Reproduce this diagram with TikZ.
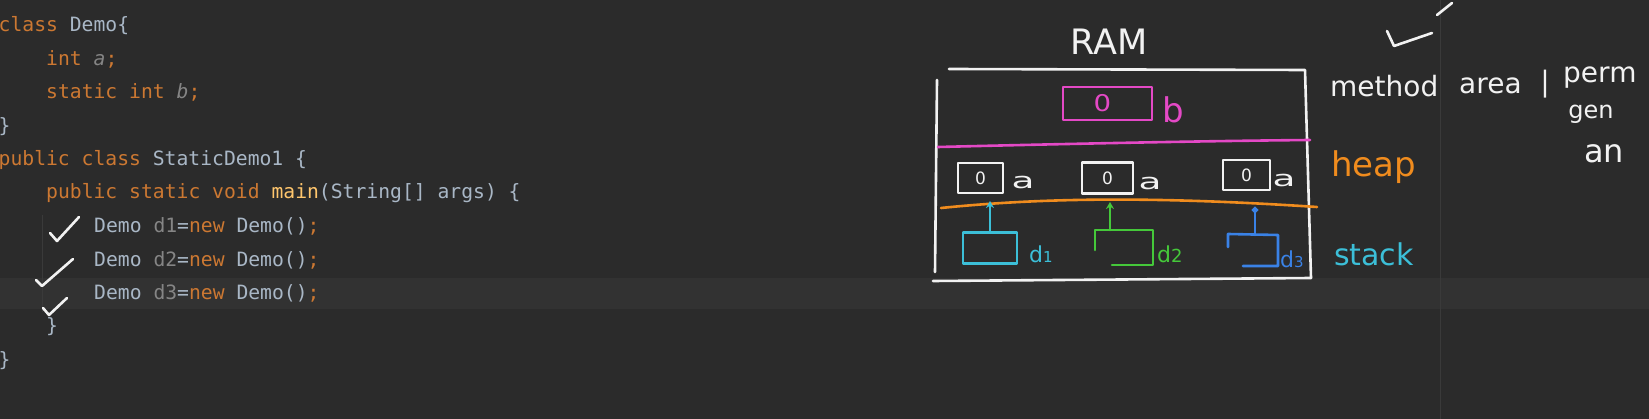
\documentclass[tikz,border=0pt]{standalone}
\usepackage{fontspec}
\usepackage{graphicx}
\usetikzlibrary{arrows.meta}
\newfontfamily\codefont{DejaVu Sans Mono}
\newfontfamily\hand{DejaVu Sans}
\definecolor{bg}{HTML}{2B2B2B}
\definecolor{band}{HTML}{323232}
\definecolor{guide}{HTML}{3A3A3A}
\definecolor{plain}{HTML}{A9B7C6}
\definecolor{kwc}{HTML}{CC7832}
\definecolor{fld}{HTML}{858585}
\definecolor{mainc}{HTML}{FFC66D}
\definecolor{pen}{HTML}{F2F2F2}
\definecolor{pinkc}{HTML}{E449C6}
\definecolor{orc}{HTML}{F08C1E}
\definecolor{cyc}{HTML}{3CBFD8}
\definecolor{grc}{HTML}{45C83A}
\definecolor{blc}{HTML}{3A82E6}
\newcommand\ckw[1]{\textcolor{kwc}{#1}}
\newcommand\cfd[1]{\textcolor{fld}{\itshape #1}}
\newcommand\cvr[1]{\textcolor{fld}{#1}}
\newcommand\cmn[1]{\textcolor{mainc}{#1}}
\begin{document}
\begin{tikzpicture}[x=1pt,y=-1pt,
  code/.style={anchor=base west, inner sep=0pt, text=plain, font={\codefont\fontsize{19.7pt}{24pt}\selectfont}},
  penline/.style={line width=2.6pt, line cap=round, line join=round},
  wp/.style={penline, draw=pen},
  hw/.style={inner sep=0pt, font={\hand\fontsize{#1pt}{#1pt}\selectfont}},
  hw/.default=28,
  hbox/.style={wp, inner sep=0pt, text=pen, font={\hand\fontsize{17pt}{17pt}\selectfont}}
]
\fill[bg] (0,0) rectangle (1649,419);
\useasboundingbox (0,0) rectangle (1649,419);
% current line band and guides
\fill[band] (0,278) rectangle (1649,309);
\draw[guide, line width=1pt] (42,215) -- (42,312);
\draw[guide, line width=1pt] (1440,0) -- (1440,419);

% code
\node[code] (l1) at (-1.5,31.7) {\ckw{class} Demo\{};
\node[code] (l2) at (46,65.2) {\ckw{int} \cfd{a}\ckw{;}};
\node[code] (l3) at (46,98.6) {\ckw{static int} \cfd{b}\ckw{;}};
\node[code] (l4) at (-1.5,132.1) {\}};
\node[code] (l5) at (-1.5,165.5) {\ckw{public class} StaticDemo1 \{};
\node[code] (l6) at (46,199) {\ckw{public static void} \cmn{main}(String[] args) \{};
\node[code] (l7) at (94,232.8) {Demo \cvr{d1}=\ckw{new} Demo()\ckw{;}};
\node[code] (l8) at (94,266.3) {Demo \cvr{d2}=\ckw{new} Demo()\ckw{;}};
\node[code] (l9) at (94,300) {Demo \cvr{d3}=\ckw{new} Demo()\ckw{;}};
\node[code] (l10) at (46,332.8) {\}};
\node[code] (l11) at (-1.5,366.2) {\}};

% check marks
\draw[wp] (50,233) -- (57,241) -- (79,217);
\draw[wp] (36,280) -- (42,286) -- (73,259);
\draw[wp] (43,308) -- (49,315) -- (67,298);
\draw[wp] (1387,31) -- (1394,46) -- (1432,33);
\draw[wp] (1437,15) -- (1452,3);

% RAM frame
\node[hw=35, text=pen, anchor=base west] (ram) at (1070,55) {RAM};
\draw[wp] (949,69) -- (1305,70) -- (1311,278);
\draw[wp] (937,80) -- (935,272);
\draw[wp] (933,281) -- (1311,278);

% method area
\draw[penline, draw=pinkc] (938,147) .. controls (1060,144) and (1200,141) .. (1310,140);
\node[penline, draw=pinkc, minimum width=89pt, minimum height=33pt, text=pinkc, inner sep=0pt,
      font={\hand\fontsize{23pt}{23pt}\selectfont}] (pb) at (1107.5,103.5) {\hspace*{-10pt}\scalebox{1.2}[1]{0}};
\node[hw=34, text=pinkc, anchor=base] (lb) at (1173,123) {b};

% heap
\draw[penline, draw=orc] (941,208) .. controls (1040,198) and (1150,196) .. (1317,207);
\node[hbox, minimum width=45pt, minimum height=30pt] (h1) at (980.5,178) {0};
\node[hbox, minimum width=51pt, minimum height=31pt] (h2) at (1107.5,178) {0};
\node[hbox, minimum width=47pt, minimum height=30pt] (h3) at (1246.5,175) {0};
\node[hw=22, text=pen] (a1) at (1023,182) {\scalebox{1.7}[1]{a}};
\node[hw=22, text=pen] (a2) at (1150,183) {\scalebox{1.7}[1]{a}};
\node[hw=22, text=pen] (a3) at (1284,180) {\scalebox{1.7}[1]{a}};

% stack
\node[penline, draw=cyc, minimum width=54pt, minimum height=31pt, inner sep=0pt] (s1) at (990,248) {};
\coordinate (t1) at (990,201);
\draw[penline, draw=cyc, -{Stealth[length=7pt,width=8pt]}] (s1.north) -- (t1);
\node[hw=22, text=cyc, anchor=base west] (d1) at (1029,263) {d\raisebox{0pt}{\fontsize{15pt}{15pt}\selectfont 1}};

\draw[penline, draw=grc] (1095,250) -- (1095,230) -- (1153,230) -- (1153,265) -- (1112,265);
\coordinate (g0) at (1110,230);
\coordinate (t2) at (1110,202);
\draw[penline, draw=grc, -{Stealth[length=7pt,width=8pt]}] (g0) -- (t2);
\node[hw=22, text=grc, anchor=base west] (d2) at (1157,263) {d\raisebox{0pt}{\fontsize{18pt}{18pt}\selectfont 2}};

\draw[penline, draw=blc] (1228,247) -- (1228,234) -- (1278,235) -- (1278,266) -- (1243,266);
\coordinate (b0) at (1255,235);
\coordinate (t3) at (1255,207);
\draw[penline, draw=blc, -{Circle[length=6pt]}] (b0) -- (t3);
\node[hw=22, text=blc, anchor=base west] (d3) at (1280,268) {d\raisebox{0pt}{\fontsize{15pt}{15pt}\selectfont 3}};

% labels on the right
\node[hw=28, text=pen, anchor=base west] (m1) at (1330,97) {method};
\node[hw=28, text=pen, anchor=base west] (m2) at (1459,94) {area};
\node[hw=28, text=pen, anchor=base] (m3) at (1545,92) {|};
\node[hw=28, text=pen, anchor=base west] (m4) at (1563,83) {perm};
\node[hw=24, text=pen, anchor=base] (m5) at (1591,119) {gen};
\node[hw=32, text=pen, anchor=base] (m6) at (1604,163) {an};
\node[hw=34, text=orc, anchor=base west] (hp) at (1331,177) {heap};
\node[hw=30, text=cyc, anchor=base west] (st) at (1334,266) {stack};
\end{tikzpicture}
\end{document}
